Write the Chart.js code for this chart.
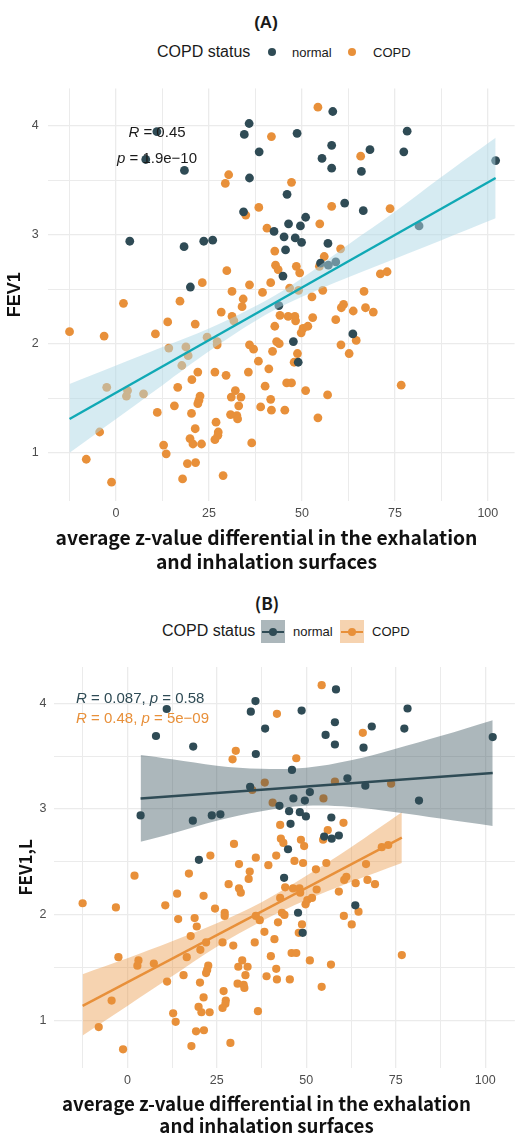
<!DOCTYPE html>
<html>
<head>
<meta charset="utf-8">
<script src="https://cdn.jsdelivr.net/npm/chart.js@4.4.1/dist/chart.umd.min.js"></script>
<style>
  html, body { margin: 0; padding: 0; width: 519px; height: 1133px; overflow: hidden; background: #fff; }
  #page { position: relative; width: 519px; height: 1133px; }
  canvas { position: absolute; left: 0; }
  .t { position: absolute; white-space: nowrap; line-height: 1; font-family: 'Liberation Sans', Arial, sans-serif; color: #1a1a1a; }
  .dot { position: absolute; width: 8px; height: 8px; border-radius: 50%; }
  .key { position: absolute; width: 24px; height: 23px; }
  .key span { position: absolute; }
</style>
</head>
<body>
<div id="page">
  <canvas id="chartA" width="519" height="500" style="top:80px"></canvas>
  <canvas id="chartB" width="519" height="490" style="top:650px"></canvas>
</div>
<script>
(() => {
  'use strict';

  // points (same subjects in both panels)
  const normalX = [11.0, 8.0, 18.4, 35.8, 34.5, 38.5, 35.9, 34.3, 42.5, 3.7,
    18.3, 23.6, 26.0, 20.0, 58.3, 48.7, 58.0, 55.4, 58.0, 68.3,
    66.0, 78.3, 77.4, 102.1, 46.0, 61.5, 66.5, 51.0, 46.4, 49.6,
    45.2, 48.2, 49.9, 57.0, 45.6, 81.5, 55.0, 57.1, 59.1, 44.9,
    43.8, 63.7, 47.7, 49.0];
  const normalY = [3.945, 3.69, 3.59, 4.02, 3.92, 3.76, 3.52, 3.21, 3.03, 2.94,
    2.89, 2.94, 2.95, 2.52, 4.13, 3.93, 3.82, 3.70, 3.61, 3.78,
    3.58, 3.95, 3.76, 3.68, 3.37, 3.29, 3.22, 3.16, 3.10, 3.08,
    2.98, 2.97, 2.93, 2.92, 2.86, 3.08, 2.74, 2.72, 2.75, 2.62,
    2.35, 2.09, 2.02, 1.83];

  const copdX = [41.8, 30.3, 29.4, 34.9, 38.4, 40.6, 42.7, 42.9, 29.8, 23.2,
    31.2, 35.9, 39.4, 41.6, 2.0, 17.2, 28.3, 34.2, 33.9, -12.5,
    -3.2, 13.9, 10.6, 21.3, 31.2, 31.7, 14.2, 18.8, 19.4, 17.7,
    24.5, 27.2, 27.2, 35.9, 37.0, 38.3, 42.1, 41.1, 42.7, 43.2,
    22.0, 20.4, 26.6, 29.6, 35.6, 40.1, 41.6, 38.9, 41.8, -2.5,
    3.1, 2.8, 7.4, 16.6, 15.7, 11.1, 22.6, 22.3, 22.0, 20.3,
    32.1, 31.0, 33.6, 33.0, 30.8, 32.5, 32.7, 26.9, 27.5, 27.4,
    26.6, 21.3, 19.9, 20.7, 23.0, 12.8, 13.5, -4.4, -8.0, -1.2,
    19.2, 21.4, 17.9, 28.8, 36.5, 54.3, 65.8, 47.2, 58.0, 73.7,
    54.8, 60.4, 56.0, 54.7, 43.6, 48.5, 49.4, 46.7, 49.1, 55.6,
    52.7, 66.7, 71.1, 72.9, 61.2, 60.6, 63.8, 67.1, 69.2, 44.1,
    46.3, 48.1, 52.9, 59.1, 48.3, 49.8, 50.3, 51.6, 64.6, 60.5,
    62.7, 48.8, 47.9, 43.9, 45.9, 47.2, 51.0, 56.9, 45.4, 54.3,
    76.7];
  const copdY = [3.90, 3.55, 3.47, 3.18, 3.25, 3.06, 2.85, 2.72, 2.67, 2.56,
    2.48, 2.54, 2.47, 2.56, 2.37, 2.39, 2.29, 2.41, 2.34, 2.11,
    2.07, 2.20, 2.09, 2.18, 2.25, 2.21, 1.96, 1.97, 1.89, 1.80,
    2.06, 2.02, 1.99, 1.99, 1.95, 1.84, 1.93, 1.77, 2.16, 2.02,
    1.74, 1.67, 1.74, 1.71, 1.74, 1.61, 1.49, 1.42, 1.39, 1.60,
    1.57, 1.52, 1.54, 1.60, 1.43, 1.37, 1.52, 1.48, 1.45, 1.36,
    1.57, 1.51, 1.51, 1.43, 1.35, 1.34, 1.31, 1.28, 1.19, 1.16,
    1.12, 1.22, 1.13, 1.08, 1.08, 1.07, 0.99, 1.19, 0.94, 0.73,
    0.90, 0.91, 0.76, 0.79, 1.09, 4.17, 3.72, 3.48, 3.26, 3.24,
    3.10, 2.87, 2.80, 2.71, 2.68, 2.71, 2.65, 2.51, 2.49, 2.49,
    2.43, 2.48, 2.64, 2.66, 2.36, 2.33, 2.30, 2.33, 2.29, 2.26,
    2.25, 2.25, 2.24, 2.22, 2.21, 2.10, 2.14, 2.16, 2.03, 1.99,
    1.91, 1.91, 1.83, 2.00, 1.64, 1.64, 1.57, 1.53, 1.39, 1.32,
    1.62];

  // panel A: one fit for everybody, with its confidence band
  const fitAllX = [-12.5, 102.1];
  const fitAllY = [1.31, 3.52];
  const bandAllX = [-12.5, 0, 12.5, 25, 40, 50, 62.5, 75, 87.5, 102.1];
  const bandAllLo = [1.00, 1.31, 1.62, 1.93, 2.26, 2.43, 2.61, 2.78, 2.95, 3.15];
  const bandAllHi = [1.63, 1.80, 1.97, 2.14, 2.39, 2.60, 2.91, 3.21, 3.53, 3.89];

  // panel B: one fit per group
  const fitNormalX = [3.7, 102.1];
  const fitNormalY = [3.10, 3.34];
  const bandNormalX = [3.7, 12.5, 25, 37.5, 50, 62.5, 75, 87.5, 102.1];
  const bandNormalLo = [2.69, 2.77, 2.89, 2.98, 3.03, 3.02, 2.97, 2.91, 2.84];
  const bandNormalHi = [3.51, 3.47, 3.41, 3.38, 3.39, 3.46, 3.57, 3.69, 3.84];

  const fitCopdX = [-12.5, 76.7];
  const fitCopdY = [1.14, 2.73];
  const bandCopdX = [-12.5, 0, 12.5, 25, 37.5, 50, 62.5, 76.7];
  const bandCopdLo = [0.86, 1.14, 1.42, 1.70, 1.94, 2.14, 2.31, 2.49];
  const bandCopdHi = [1.44, 1.59, 1.75, 1.92, 2.12, 2.37, 2.64, 2.97];

  const xTickLabels = [0, 25, 50, 75, 100];
  const xGridValues = [-12.5, 0, 12.5, 25, 37.5, 50, 62.5, 75, 87.5, 100];
  const yTickLabels = [1, 2, 3, 4];
  const yGridValues = [1, 1.5, 2, 2.5, 3, 3.5, 4];
  const xTitleLines = ['average z-value differential in the exhalation', 'and inhalation surfaces'];

  const NORMAL = '#2f4b55';
  const COPD = '#e8903a';
  const TEAL = '#10a9b5';
  const GRID = '#ebebeb';
  const TICK = '#4d4d4d';
  const SANS = "'Liberation Sans', Arial, sans-serif";
  const TITLE_FONT = "'Noto Sans CJK KR', 'Noto Sans', sans-serif";
  const CLEAR = 'rgba(0,0,0,0)';

  const pts = (xs, ys) => xs.map((x, i) => ({ x, y: ys[i] }));
  const noPad = sc => { sc.paddingTop = 0; sc.paddingBottom = 0; sc.paddingLeft = 0; sc.paddingRight = 0; };

  function fitLine(xs, ys, color) {
    return { type: 'line', data: pts(xs, ys), borderColor: color, borderWidth: 2.4,
      pointRadius: 0, fill: false, order: 1 };
  }

  function band(xs, lo, hi, color) {
    return [
      { type: 'line', data: pts(xs, hi), borderColor: CLEAR, borderWidth: 0, pointRadius: 0,
        backgroundColor: color, fill: '+1', tension: 0.35, order: 2 },
      { type: 'line', data: pts(xs, lo), borderColor: CLEAR, borderWidth: 0, pointRadius: 0,
        fill: false, tension: 0.35, order: 2 }
    ];
  }

  function scatter(xs, ys, color, r) {
    return { type: 'scatter', data: pts(xs, ys), backgroundColor: color, borderWidth: 0,
      pointRadius: r, pointHoverRadius: r, order: 3 };
  }

  function makeChart(el, s) {
    return new Chart(el.getContext('2d'), {
      type: 'scatter',
      data: { datasets: s.datasets },
      options: {
        responsive: false,
        animation: false,
        devicePixelRatio: 1,
        events: [],
        layout: { padding: { top: s.padTop, left: 0, right: 0, bottom: 0 } },
        plugins: { legend: { display: false }, tooltip: { enabled: false } },
        scales: {
          x: {
            type: 'linear', min: s.xMin, max: s.xMax,
            afterBuildTicks: sc => { sc.ticks = xGridValues.map(v => ({ value: v })); },
            afterFit: sc => { sc.height = s.xHeight; noPad(sc); },
            ticks: { autoSkip: false, maxRotation: 0, padding: s.xTickPad, color: TICK,
              font: { family: SANS, size: 12.5 },
              callback: v => (xTickLabels.includes(v) ? String(v) : '') },
            grid: { color: GRID, drawTicks: false,
              lineWidth: c => (c.tick && xTickLabels.includes(c.tick.value) ? 1.3 : 1) },
            border: { display: false },
            title: { display: false }
          },
          y: {
            type: 'linear', min: 0.558, max: 4.342,
            afterBuildTicks: sc => { sc.ticks = yGridValues.map(v => ({ value: v })); },
            afterFit: sc => { sc.width = s.yWidth; noPad(sc); },
            ticks: { autoSkip: false, padding: s.yTickPad, color: TICK,
              font: { family: SANS, size: 12.5 },
              callback: v => (yTickLabels.includes(v) ? String(v) : '') },
            grid: { color: GRID, drawTicks: false,
              lineWidth: c => (c.tick && yTickLabels.includes(c.tick.value) ? 1.3 : 1) },
            border: { display: false },
            title: { display: true, text: s.yTitle, color: '#111',
              font: { family: s.yTitleFamily, size: s.yTitleSize, weight: 'bold', lineHeight: 1.2 },
              padding: { top: s.yTitlePad, bottom: 0 } }
          }
        }
      }
    });
  }

  makeChart(document.getElementById('chartA'), {
    datasets: [
      fitLine(fitAllX, fitAllY, TEAL),
      ...band(bandAllX, bandAllLo, bandAllHi, 'rgba(173,216,230,0.5)'),
      scatter(normalX, normalY, NORMAL, 4.4),
      scatter(copdX, copdY, COPD, 4.4)
    ],
    padTop: 8.4, xMin: -18.4, xMax: 107.2, xHeight: 79.1, xTickPad: 5,
    yWidth: 47.6, yTickPad: 9, yTitle: 'FEV1', yTitleFamily: SANS, yTitleSize: 18, yTitlePad: 4
  });

  makeChart(document.getElementById('chartB'), {
    datasets: [
      fitLine(fitNormalX, fitNormalY, NORMAL),
      fitLine(fitCopdX, fitCopdY, COPD),
      ...band(bandNormalX, bandNormalLo, bandNormalHi, 'rgba(47,75,85,0.4)'),
      ...band(bandCopdX, bandCopdLo, bandCopdHi, 'rgba(232,144,58,0.4)'),
      scatter(normalX, normalY, NORMAL, 4.1),
      scatter(copdX, copdY, COPD, 4.1)
    ],
    padTop: 17, xMin: -20.5, xMax: 108.3, xHeight: 72.5, xTickPad: 6,
    yWidth: 54, yTickPad: 7.5, yTitle: 'FEV1,L', yTitleFamily: TITLE_FONT, yTitleSize: 17, yTitlePad: 15
  });

  // titles, legends, x titles and correlation labels as page text
  const page = document.getElementById('page');
  function text(html, x, y, css, center) {
    const d = document.createElement('div');
    d.className = 't';
    d.innerHTML = html;
    d.style.cssText = `left:${x}px;top:${y}px;transform:translate(${center ? '-50%' : '0'},-50%);${css || ''}`;
    page.appendChild(d);
  }
  function dot(x, y, color) {
    const d = document.createElement('div');
    d.className = 'dot';
    d.style.cssText = `left:${x - 4}px;top:${y - 4}px;background:${color}`;
    page.appendChild(d);
  }
  function key(x, y, color, fill) {
    const d = document.createElement('div');
    d.className = 'key';
    d.style.cssText = `left:${x}px;top:${y}px;background:${fill}`;
    d.innerHTML = `<span style="left:1px;right:1px;top:10.5px;height:2.2px;background:${color}"></span>` +
      `<span style="left:8px;top:7.5px;width:8px;height:8px;border-radius:50%;background:${color}"></span>`;
    page.appendChild(d);
  }

  const xTitleCss = size => `font-size:${size}px;font-weight:bold;color:#111;font-family:${TITLE_FONT}`;

  text('(A)', 266, 22, 'font-size:17px;font-weight:bold', true);
  text('COPD status', 157, 52, 'font-size:16px');
  dot(272, 52, NORMAL);
  text('normal', 292, 52, 'font-size:13px');
  dot(352, 52, COPD);
  text('COPD', 373, 52, 'font-size:13px');
  text('<i>R</i> = 0.45', 157, 131, 'font-size:15px', true);
  text('<i>p</i> = 1.9e\u221210', 157, 157, 'font-size:15px', true);
  text(xTitleLines[0], 266.5, 538, xTitleCss(19.3), true);
  text(xTitleLines[1], 266.5, 562, xTitleCss(19.3), true);

  text('(B)', 267, 602, `font-size:17px;font-weight:bold;font-family:${TITLE_FONT}`, true);
  text('COPD status', 162, 631, 'font-size:16px');
  key(261, 620, NORMAL, 'rgba(47,75,85,0.4)');
  text('normal', 293, 631, 'font-size:13px');
  key(340, 620, COPD, 'rgba(232,144,58,0.4)');
  text('COPD', 372, 631, 'font-size:13px');
  text('<i>R</i> = 0.087, <i>p</i> = 0.58', 76, 697, `font-size:15px;color:${NORMAL}`);
  text('<i>R</i> = 0.48, <i>p</i> = 5e\u221209', 76, 717, `font-size:15px;color:${COPD}`);
  text(xTitleLines[0], 266.5, 1103, xTitleCss(18.7), true);
  text(xTitleLines[1], 266.5, 1125, xTitleCss(18.7), true);
})();
</script>
</body>
</html>
